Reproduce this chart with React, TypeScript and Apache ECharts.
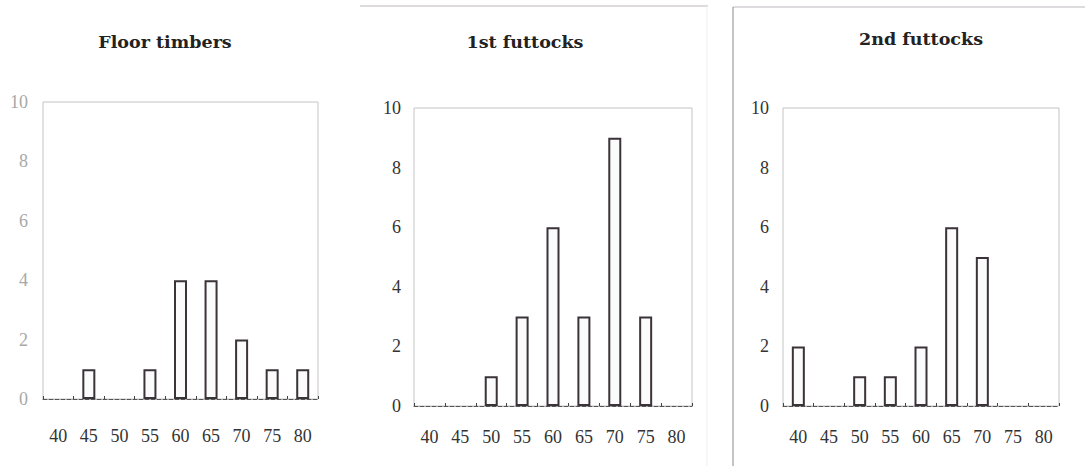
import React, { useEffect, useRef } from "react";
import * as echarts from "echarts";

const categories = ["40", "45", "50", "55", "60", "65", "70", "75", "80"];
const titles = ["Floor timbers", "1st futtocks", "2nd futtocks"];
const floorTimbers = [0, 1, 0, 1, 4, 4, 2, 1, 1];
const firstFuttocks = [0, 0, 1, 3, 6, 3, 9, 3, 0];
const secondFuttocks = [2, 0, 1, 1, 2, 6, 5, 0, 0];
const yTicks = { min: 0, max: 10, interval: 2 };

const seriesData = [floorTimbers, firstFuttocks, secondFuttocks];

const grids = [
  { left: 43, top: 102, width: 275, height: 297 },
  { left: 414, top: 108, width: 278, height: 298 },
  { left: 783, top: 108, width: 276, height: 298 },
];
const titleCenters = [160, 520, 916];
const titleTops = [28, 28, 25];
const yLabelColors = ["#a8a8a8", "#333", "#333"];
const xLabelMargins = [28, 22, 22];
const yLabelMargins = [15, 13, 14];
const TITLE_FONT = "DejaVu Serif";
const FONT = "Liberation Serif";

export default function App() {
  const ref = useRef<HTMLDivElement>(null);
  useEffect(() => {
    document.body.style.margin = "0";
    const chart = echarts.init(ref.current!, null, { renderer: "svg" });
    chart.setOption({
      animation: false,
      backgroundColor: "#ffffff",
      title: titles.map((t, i) => ({
        text: t,
        left: titleCenters[i],
        top: titleTops[i],
        textAlign: "center",
        textStyle: { fontFamily: TITLE_FONT, fontSize: 17.5, fontWeight: "bold", color: "#222" },
      })),
      grid: grids.map((g) => ({
        ...g,
        show: true,
        borderColor: "#c4c4c4",
        borderWidth: 1,
        backgroundColor: "transparent",
      })),
      xAxis: grids.map((_, i) => ({
        type: "category",
        gridIndex: i,
        data: categories,
        axisLine: { show: true, lineStyle: { color: "#555", width: 1, type: "dashed" } },
        axisTick: { show: true, inside: true, length: 3, lineStyle: { color: "#444" } },
        axisLabel: {
          fontFamily: FONT,
          fontSize: 18,
          color: "#333",
          margin: xLabelMargins[i],
          interval: 0,
        },
      })),
      yAxis: grids.map((_, i) => ({
        type: "value",
        gridIndex: i,
        min: yTicks.min,
        max: yTicks.max,
        interval: yTicks.interval,
        axisLine: { show: false },
        axisTick: { show: false },
        splitLine: { show: false },
        axisLabel: {
          fontFamily: FONT,
          fontSize: 18,
          color: yLabelColors[i],
          margin: yLabelMargins[i],
        },
      })),
      series: seriesData.map((d, i) => ({
        type: "bar",
        xAxisIndex: i,
        yAxisIndex: i,
        data: d.map((v) => (v === 0 ? null : v)),
        barWidth: 13,
        itemStyle: { color: "#fbfbfb", borderColor: "#3a3338", borderWidth: 2 },
      })),
      graphic: [
        { type: "line", shape: { x1: 360, y1: 6, x2: 708, y2: 6 }, style: { stroke: "#bdb6b6", lineWidth: 1 } },
        { type: "line", shape: { x1: 707, y1: 6, x2: 707, y2: 466 }, style: { stroke: "#eeeeee", lineWidth: 1 } },
        { type: "line", shape: { x1: 733, y1: 7, x2: 1085, y2: 7 }, style: { stroke: "#bcb8bc", lineWidth: 1 } },
        { type: "line", shape: { x1: 733, y1: 7, x2: 733, y2: 466 }, style: { stroke: "#8a8a8a", lineWidth: 1 } },
      ],
    });
    return () => chart.dispose();
  }, []);
  return <div ref={ref} style={{ width: 1085, height: 466 }} />;
}
